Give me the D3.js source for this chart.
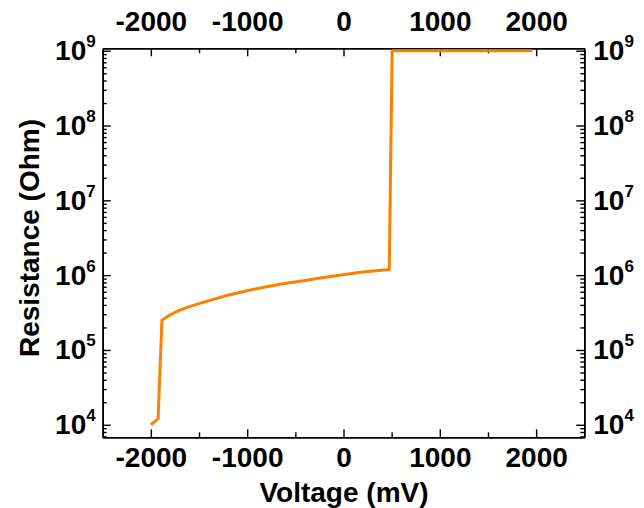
<!DOCTYPE html>
<html>
<head>
<meta charset="utf-8">
<script src="https://cdn.jsdelivr.net/npm/d3@7"></script>
<style>
  html, body { margin: 0; padding: 0; background: #fff; }
  svg { display: block; font-family: "Liberation Sans", Arial, Helvetica, sans-serif; font-weight: bold; }
</style>
</head>
<body>
<svg id="chart" width="644" height="508"></svg>
<script>
// ---- Data ----
const voltage = [-2000, -1925, -1885, -1800, -1700, -1600, -1440, -1200, -1000, -940, -800, -600, -400, -280, 30, 200, 475, 505, 1960];
const resistance = [1.0e4, 1.2e4, 2.5e5, 2.95e5, 3.4e5, 3.8e5, 4.4e5, 5.4e5, 6.2e5, 6.45e5, 7.0e5, 7.8e5, 8.5e5, 9.0e5, 1.03e6, 1.1e6, 1.19e6, 1.0e9, 1.0e9];
const xMajorTicks = [-2000, -1000, 0, 1000, 2000];
const xMinorTicks = [-1500, -500, 500, 1500];
const yMajorExponents = [4, 5, 6, 7, 8, 9];
const xLabel = "Voltage (mV)";
const yLabel = "Resistance (Ohm)";

// ---- Layout ----
const L = 102.7, R = 584.3, T = 48.3, B = 437.3;
const svg = d3.select("#chart");

const x = d3.scaleLinear().domain([-2500, 2500]).range([L, R]);
const y = d3.scaleLog().domain([6800, 1.077e9]).range([B, T]);

const yMajor = yMajorExponents.map(e => Math.pow(10, e));
const yMinor = [];
for (let e = 3; e <= 9; e++) {
  for (let m = 2; m <= 9; m++) {
    const v = m * Math.pow(10, e);
    if (v >= y.domain()[0] && v <= y.domain()[1]) yMinor.push(v);
  }
}

const fontSize = 28;

function styleAxis(g) {
  g.selectAll("path.domain").attr("stroke", "#000").attr("stroke-width", 1.6);
  g.selectAll(".tick line").attr("stroke", "#000").attr("stroke-width", 1.4);
  g.selectAll("text").attr("fill", "#000").attr("font-size", fontSize)
    .attr("font-family", "'Liberation Sans', Arial, sans-serif").attr("font-weight", "bold");
}

function supLabels(g) {
  g.selectAll(".tick text").each(function(d) {
    const t = d3.select(this);
    const e = Math.round(Math.log10(d));
    t.text(null);
    t.append("tspan").text("10");
    t.append("tspan").attr("font-size", 17).attr("dy", -13).text(String(e));
  });
}

// Minor ticks
svg.append("g").attr("transform", `translate(0,${B})`)
  .call(d3.axisBottom(x).tickValues(xMinorTicks).tickSize(-5).tickSizeOuter(0).tickFormat(""))
  .call(styleAxis);
svg.append("g").attr("transform", `translate(0,${T})`)
  .call(d3.axisTop(x).tickValues(xMinorTicks).tickSize(-5).tickSizeOuter(0).tickFormat(""))
  .call(styleAxis);
svg.append("g").attr("transform", `translate(${L},0)`)
  .call(d3.axisLeft(y).tickValues(yMinor).tickSize(-4).tickSizeOuter(0).tickFormat(""))
  .call(styleAxis);
svg.append("g").attr("transform", `translate(${R},0)`)
  .call(d3.axisRight(y).tickValues(yMinor).tickSize(-4).tickSizeOuter(0).tickFormat(""))
  .call(styleAxis);

// Major ticks with labels
const fmtX = d => (d < 0 ? "-" : "") + Math.abs(d);
svg.append("g").attr("transform", `translate(0,${B})`)
  .call(d3.axisBottom(x).tickValues(xMajorTicks).tickSize(-8).tickSizeOuter(0).tickPadding(9.5).tickFormat(fmtX))
  .call(styleAxis);
svg.append("g").attr("transform", `translate(0,${T})`)
  .call(d3.axisTop(x).tickValues(xMajorTicks).tickSize(-8).tickSizeOuter(0).tickPadding(17).tickFormat(fmtX))
  .call(styleAxis);
svg.append("g").attr("transform", `translate(${L},0)`)
  .call(d3.axisLeft(y).tickValues(yMajor).tickSize(-8).tickSizeOuter(0).tickPadding(7))
  .call(styleAxis).call(supLabels);
svg.append("g").attr("transform", `translate(${R},0)`)
  .call(d3.axisRight(y).tickValues(yMajor).tickSize(-8).tickSizeOuter(0).tickPadding(9))
  .call(styleAxis).call(supLabels);

// Data line
const data = voltage.map((v, i) => ({ v, r: resistance[i] }));
svg.append("path")
  .datum(data)
  .attr("fill", "none")
  .attr("stroke", "#ff8000")
  .attr("stroke-width", 3)
  .attr("stroke-linejoin", "round")
  .attr("d", d3.line().x(d => x(d.v)).y(d => y(d.r)));

// Axis titles
svg.append("text")
  .attr("x", (L + R) / 2 + 0.5).attr("y", 501.5)
  .attr("text-anchor", "middle").attr("font-size", fontSize).attr("fill", "#000")
  .text(xLabel);
svg.append("text")
  .attr("transform", `translate(39,238) rotate(-90)`)
  .attr("text-anchor", "middle").attr("font-size", fontSize).attr("fill", "#000")
  .text(yLabel);
</script>
</body>
</html>
